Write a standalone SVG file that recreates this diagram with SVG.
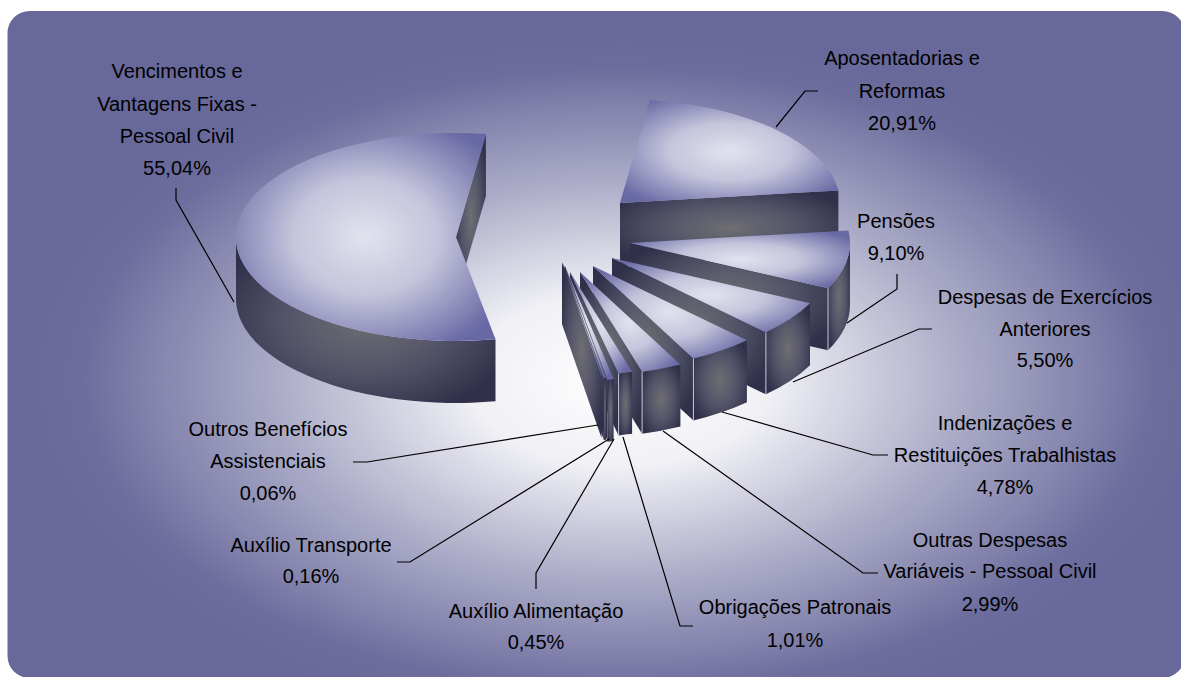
<svg xmlns="http://www.w3.org/2000/svg" width="1181" height="677" viewBox="0 0 1181 677">
<style>
  text { font-family: "Liberation Sans", Arial, sans-serif; font-size: 20px; fill: #000; text-anchor: middle; }
  .top { fill: url(#gTop); }
  .side { fill: url(#gSide); }
  .edge { stroke: #c4c4d8; stroke-width: 1; fill: none; }
  .conn polyline { fill: none; stroke: #000; stroke-width: 1.2; }
</style>
<defs>
  <radialGradient id="bg" gradientUnits="userSpaceOnUse" cx="620" cy="380" r="600" gradientTransform="translate(620 380) scale(1 0.58) translate(-620 -380)">
    <stop offset="0" stop-color="#ffffff"/>
    <stop offset="0.25" stop-color="#f0f0f5"/>
    <stop offset="0.55" stop-color="#b0b0cb"/>
    <stop offset="0.9" stop-color="#6c6c9d"/>
    <stop offset="1" stop-color="#68689a"/>
  </radialGradient>
  <radialGradient id="gTop" cx="0.5" cy="0.5" r="0.62">
    <stop offset="0" stop-color="#e2e2ee"/>
    <stop offset="0.45" stop-color="#c4c4dc"/>
    <stop offset="1" stop-color="#6868a4"/>
  </radialGradient>
  <radialGradient id="gSide" cx="0.5" cy="0.5" r="0.6">
    <stop offset="0" stop-color="#6e6e72"/>
    <stop offset="0.5" stop-color="#55556a"/>
    <stop offset="1" stop-color="#30304a"/>
  </radialGradient>
</defs>

<rect x="7.5" y="11" width="1177" height="667" rx="22" ry="22" fill="url(#bg)"/>

<g id="slice-aposentadorias">
  <path class="side" d="M620,203 L838.4,190.5 L838.4,252.5 L620,265 Z"/>
  <path class="top" d="M620,203 L649.9,100 A220,104 0 0 1 838.4,190.5 Z"/>
</g>
<g id="slice-pensoes">
  <path class="side" d="M630,243 L828,288.3 L828,350.3 L630,305 Z"/>
  <path class="side" d="M850,243 A220,104 0 0 1 828,288.3 L828,350.3 A220,104 0 0 0 850,305 Z"/>
  <path class="top" d="M630,243 L848.4,230.5 A220,104 0 0 1 828,288.3 Z"/>
  <line class="edge" x1="828" y1="288.3" x2="828" y2="350.3"/>
</g>
<g id="slice-despesas-exercicios">
  <path class="side" d="M612,258 L765.9,332.3 L765.9,394.3 L612,320 Z"/>
  <path class="side" d="M810,303.3 A220,104 0 0 1 765.9,332.3 L765.9,394.3 A220,104 0 0 0 810,365.3 Z"/>
  <path class="top" d="M612,258 L810,303.3 A220,104 0 0 1 765.9,332.3 Z"/>
  <line class="edge" x1="765.9" y1="332.3" x2="765.9" y2="394.3"/>
</g>
<g id="slice-indenizacoes">
  <path class="side" d="M593,266 L693.4,358.5 L693.4,420.5 L593,328 Z"/>
  <path class="side" d="M746.9,340.3 A220,104 0 0 1 693.4,358.5 L693.4,420.5 A220,104 0 0 0 746.9,402.3 Z"/>
  <path class="top" d="M593,266 L746.9,340.3 A220,104 0 0 1 693.4,358.5 Z"/>
  <line class="edge" x1="693.4" y1="358.5" x2="693.4" y2="420.5"/>
</g>
<g id="slice-outras-despesas">
  <path class="side" d="M580,272 L642.1,371.8 L642.1,433.8 L580,334 Z"/>
  <path class="side" d="M680.4,364.5 A220,104 0 0 1 642.1,371.8 L642.1,433.8 A220,104 0 0 0 680.4,426.5 Z"/>
  <path class="top" d="M580,272 L680.4,364.5 A220,104 0 0 1 642.1,371.8 Z"/>
  <line class="edge" x1="642.1" y1="371.8" x2="642.1" y2="433.8"/>
</g>
<g id="slice-obrigacoes">
  <path class="side" d="M570,272 L618.6,373.4 L618.6,435.4 L570,334 Z"/>
  <path class="side" d="M632.1,371.8 A220,104 0 0 1 618.6,373.4 L618.6,435.4 A220,104 0 0 0 632.1,433.8 Z"/>
  <path class="top" d="M570,272 L632.1,371.8 A220,104 0 0 1 618.6,373.4 Z"/>
  <line class="edge" x1="618.6" y1="373.4" x2="618.6" y2="435.4"/>
</g>
<g id="slice-auxilio-alimentacao">
  <path class="side" d="M565,266 L607.5,379.8 L607.5,441.8 L565,328 Z"/>
  <path class="side" d="M613.6,379.1 L607.5,379.8 L607.5,441.8 L613.6,441.1 Z"/>
  <path class="top" d="M565,266 L613.6,379.1 L607.5,379.8 Z"/>
</g>
<g id="slice-auxilio-transporte">
  <path class="side" d="M563.5,264 L603.8,378 L603.8,440 L563.5,326 Z"/>
  <path class="side" d="M606,377.8 L603.8,378 L603.8,440 L606,439.8 Z"/>
  <path class="top" d="M563.5,264 L606,377.8 L603.8,378 Z"/>
</g>
<g id="slice-outros-beneficios">
  <path class="side" d="M562,262 L601.5,376.1 L601.5,438.1 L562,324 Z"/>
  <path class="top" d="M562,262 L602.3,376 L601.5,376.1 Z"/>
</g>
<g id="slice-vencimentos">
  <path class="side" d="M456,237 L485.9,134 L485.9,196 L456,299 Z"/>
  <path class="side" d="M495.5,339.3 A220,104 0 0 1 236,237 L236,299 A220,104 0 0 0 495.5,401.3 Z"/>
  <path class="top" d="M456,237 L495.5,339.3 A220,104 0 1 1 485.9,134 Z"/>
</g>

<g id="connectors" class="conn">
  <polyline points="176,188 176,200 234,302"/>
  <polyline points="818,91 805,91 776,127"/>
  <polyline points="897,274 897,289 847,323"/>
  <polyline points="932,329 919,329 793,382"/>
  <polyline points="888,455 873,455 722,412"/>
  <polyline points="878,573 863,573 663,431"/>
  <polyline points="693,626 680,626 623,437"/>
  <polyline points="536,589 536,573 614,439"/>
  <polyline points="397,562 410,562 609,439"/>
  <polyline points="353,462 367,462 598,425"/>
</g>

<g id="label-vencimentos">
  <text x="177" y="78">Vencimentos e</text>
  <text x="177" y="110.5">Vantagens Fixas -</text>
  <text x="177" y="143">Pessoal Civil</text>
  <text x="177" y="175">55,04%</text>
</g>
<g id="label-aposentadorias">
  <text x="902" y="65">Aposentadorias e</text>
  <text x="902" y="98">Reformas</text>
  <text x="902" y="130">20,91%</text>
</g>
<g id="label-pensoes">
  <text x="896" y="228">Pensões</text>
  <text x="896" y="260">9,10%</text>
</g>
<g id="label-despesas-exercicios">
  <text x="1045" y="304">Despesas de Exercícios</text>
  <text x="1045" y="336">Anteriores</text>
  <text x="1045" y="367">5,50%</text>
</g>
<g id="label-indenizacoes">
  <text x="1005" y="430">Indenizações e</text>
  <text x="1005" y="462">Restituições Trabalhistas</text>
  <text x="1005" y="494">4,78%</text>
</g>
<g id="label-outras-despesas">
  <text x="990" y="547">Outras Despesas</text>
  <text x="990" y="578">Variáveis - Pessoal Civil</text>
  <text x="990" y="611">2,99%</text>
</g>
<g id="label-obrigacoes">
  <text x="795" y="614">Obrigações Patronais</text>
  <text x="795" y="647">1,01%</text>
</g>
<g id="label-auxilio-alimentacao">
  <text x="536" y="618">Auxílio Alimentação</text>
  <text x="536" y="649">0,45%</text>
</g>
<g id="label-auxilio-transporte">
  <text x="311" y="552">Auxílio Transporte</text>
  <text x="311" y="583">0,16%</text>
</g>
<g id="label-outros-beneficios">
  <text x="268" y="436">Outros Benefícios</text>
  <text x="268" y="468">Assistenciais</text>
  <text x="268" y="500">0,06%</text>
</g>
</svg>
